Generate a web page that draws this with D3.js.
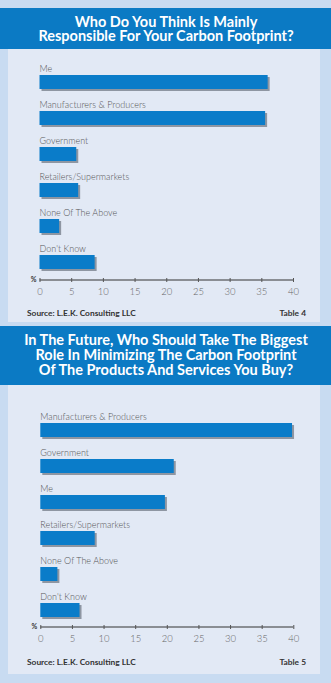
<!DOCTYPE html>
<html lang="en">
<head>
  <meta charset="UTF-8">
  <title>Carbon Footprint Survey</title>
  <script src="https://d3js.org/d3.v7.min.js"></script>
  <style>
    body { margin: 0; background: #c8dbf1; }
    .title { font-family: Lato, "Open Sans", sans-serif; font-weight: 700; fill: #fff; font-size: 14.5px; }
    .cat { font-family: Lato, "Open Sans", sans-serif; font-weight: 300; fill: #555; font-size: 9px; }
    .tick text { font-family: Lato, "Open Sans", sans-serif; font-weight: 300; fill: #666; font-size: 9.5px; }
    .src { font-family: Lato, "Open Sans", sans-serif; font-weight: 700; fill: #333; font-size: 8.4px; }
  </style>
</head>
<body>
  <svg id="chart" width="331" height="683"></svg>
  <script>
    // ---- data ----
    const titles1 = ["Who Do You Think Is Mainly", "Responsible For Your Carbon Footprint?"];
    const categories1 = ["Me", "Manufacturers & Producers", "Government", "Retailers/Supermarkets", "None Of The Above", "Don't Know"];
    const values1 = [36.0, 35.6, 5.8, 6.1, 3.1, 8.7];

    const titles2 = ["In The Future, Who Should Take The Biggest", "Role In Minimizing The Carbon Footprint", "Of The Products And Services You Buy?"];
    const categories2 = ["Manufacturers & Producers", "Government", "Me", "Retailers/Supermarkets", "None Of The Above", "Don't Know"];
    const values2 = [39.8, 21.1, 19.7, 8.6, 2.7, 6.2];

    const tickValues = [0, 5, 10, 15, 20, 25, 30, 35, 40];
    const sourceText = "Source: L.E.K. Consulting LLC";
    const tableLabels = ["Table 4", "Table 5"];

    const svg = d3.select("#chart");
    const W = 331;

    function drawChart(cfg) {
      const g = svg.append("g");

      // banner + panel
      g.append("rect").attr("x", 0).attr("y", cfg.bannerTop).attr("width", W)
        .attr("height", cfg.panelTop - cfg.bannerTop).attr("fill", "#0b7ac4");
      g.append("rect").attr("x", 8).attr("y", cfg.panelTop).attr("width", 312)
        .attr("height", cfg.panelBottom - cfg.panelTop).attr("fill", "#e2e9f5");

      // title: one text, one tspan per line
      const title = g.append("text").attr("class", "title")
        .attr("text-anchor", "middle");
      cfg.titles.forEach((t, i) => {
        title.append("tspan")
          .attr("x", W / 2 + 0.5).attr("y", cfg.titleY + i * cfg.titleStep)
          .text(t);
      });

      const x = d3.scaleLinear().domain([0, 40]).range(cfg.xRange);
      const y = d3.scaleBand().domain(cfg.categories)
        .range([cfg.barTop, cfg.barTop + 36 * (cfg.categories.length - 22 / 36)])
        .paddingInner(22 / 36).paddingOuter(0);

      const rows = cfg.categories.map((c, i) => ({ cat: c, val: cfg.values[i] }));

      // shadows
      g.selectAll(".shadow").data(rows).enter().append("rect")
        .attr("class", "shadow")
        .attr("x", x(0) + 2).attr("y", d => y(d.cat) + 2)
        .attr("width", d => x(d.val) - x(0)).attr("height", y.bandwidth())
        .attr("fill", "#8e96a2");

      // bars
      g.selectAll(".bar").data(rows).enter().append("rect")
        .attr("class", "bar")
        .attr("x", x(0)).attr("y", d => y(d.cat))
        .attr("width", d => x(d.val) - x(0)).attr("height", y.bandwidth())
        .attr("fill", "#0a7cc9");

      // category labels
      g.selectAll(".cat").data(rows).enter().append("text")
        .attr("class", "cat")
        .attr("x", x(0)).attr("y", d => y(d.cat) - 3.5)
        .text(d => d.cat);

      // axis
      const axis = d3.axisBottom(x).tickValues(tickValues).tickSize(2).tickPadding(6);
      const ax = g.append("g").attr("transform", `translate(0,${cfg.axisY})`).call(axis);
      ax.select(".domain").attr("stroke", "#333").attr("d", `M${x(0)},0H${x(40)}`);
      ax.selectAll(".tick line").attr("stroke", "#555").attr("y1", -2).attr("y2", 2);

      g.append("text").attr("class", "cat").attr("x", x(0) - 3).attr("y", cfg.axisY + 2)
        .attr("text-anchor", "end").style("font-size", "7px").style("font-weight", 700)
        .style("fill", "#333").text("%");

      // source + table
      g.append("text").attr("class", "src").attr("x", 27).attr("y", cfg.sourceY).text(sourceText);
      g.append("text").attr("class", "src").attr("x", 306).attr("y", cfg.sourceY)
        .attr("text-anchor", "end").text(cfg.table);
    }

    drawChart({
      bannerTop: 8, panelTop: 49, panelBottom: 322, titleY: 27, titleStep: 14,
      titles: titles1, categories: categories1, values: values1,
      xRange: [39.5, 293], barTop: 75, axisY: 280, sourceY: 316, table: tableLabels[0]
    });

    drawChart({
      bannerTop: 326, panelTop: 385, panelBottom: 674, titleY: 345, titleStep: 15,
      titles: titles2, categories: categories2, values: values2,
      xRange: [40.3, 293.3], barTop: 423, axisY: 627, sourceY: 665, table: tableLabels[1]
    });
  </script>
</body>
</html>
